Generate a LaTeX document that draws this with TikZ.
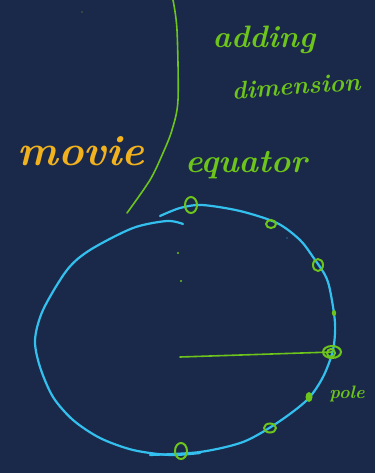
\documentclass[tikz,border=0pt]{standalone}
\usetikzlibrary{calc}
\definecolor{bg}{HTML}{1A2949}
\definecolor{lime}{HTML}{6DC41A}
\definecolor{sky}{HTML}{34C0EE}
\definecolor{amber}{HTML}{F2B21E}
\tikzset{
  blueline/.style={sky, line width=2.2pt, line cap=round, line join=round},
  greenline/.style={lime, line width=1.6pt, line cap=round, line join=round},
  loopmark/.style={lime, line width=2pt},
  hand/.style={inner sep=0pt},
}
\begin{document}
\begin{tikzpicture}[x=1pt,y=-1pt]
\fill[bg] (0,0) rectangle (375,473);
\useasboundingbox (0,0) rectangle (375,473);
% divider
\draw[greenline] plot[smooth] coordinates {(173,0) (177,30) (178,100) (172,130) (163,153) (150,180) (127,213)};
% texts
\node[hand, text=amber, font=\bfseries\itshape\fontsize{43}{43}\selectfont] (movie) at (81,151) {movie};
\node[hand, text=lime, font=\bfseries\itshape\fontsize{31}{31}\selectfont] (adding) at (264,40) {adding};
\node[hand, text=lime, font=\bfseries\itshape\fontsize{25}{25}\selectfont, rotate=4] (dimension) at (296,86) {dimension};
\node[hand, text=lime, font=\bfseries\itshape\fontsize{33}{33}\selectfont] (equator) at (246,165) {equator};
\node[hand, text=lime, font=\bfseries\itshape\fontsize{18}{18}\selectfont] (pole) at (347,394) {pole};
% globe outline
\draw[blueline] plot[smooth] coordinates {(160,216) (180,208) (202,205) (240,211) (277,223) (300,240) (313,257) (325,275) (330,290) (335,323) (333,350) (323,377) (307,400) (277,423) (243,442) (200,452) (150,455)};
\draw[blueline] plot[smooth] coordinates {(183,224) (167,221) (133,228) (90,250) (67,270) (43,310) (35,340) (40,367) (53,397) (73,420) (100,438) (133,450) (170,455) (200,453)};
% axis to pole
\coordinate (centre) at (180,357);
\coordinate (polept) at (332,352);
\draw[greenline] (centre) -- (polept);
% marks on the equator
\draw[loopmark] (191,205) ellipse (6 and 8);
\draw[loopmark] (271,224) ellipse (5 and 4);
\draw[loopmark] (318,265) ellipse (5 and 6);
\fill[lime] (334,313) ellipse (2.2 and 3);
\draw[loopmark] (332,352) ellipse (9 and 6);
\draw[loopmark] (331,353) ellipse (4 and 4);
\fill[lime] (309,397) ellipse (3.5 and 5);
\draw[loopmark] (270,428) ellipse (6 and 4.5);
\draw[loopmark] (181,451) ellipse (6 and 8);
% small dots
\fill[lime] (178,253) circle (1.1);
\fill[lime] (181,281) circle (1.1);
\fill[lime] (82,12) circle (0.7);
\fill[sky] (287,238) circle (0.7);
\end{tikzpicture}
\end{document}
